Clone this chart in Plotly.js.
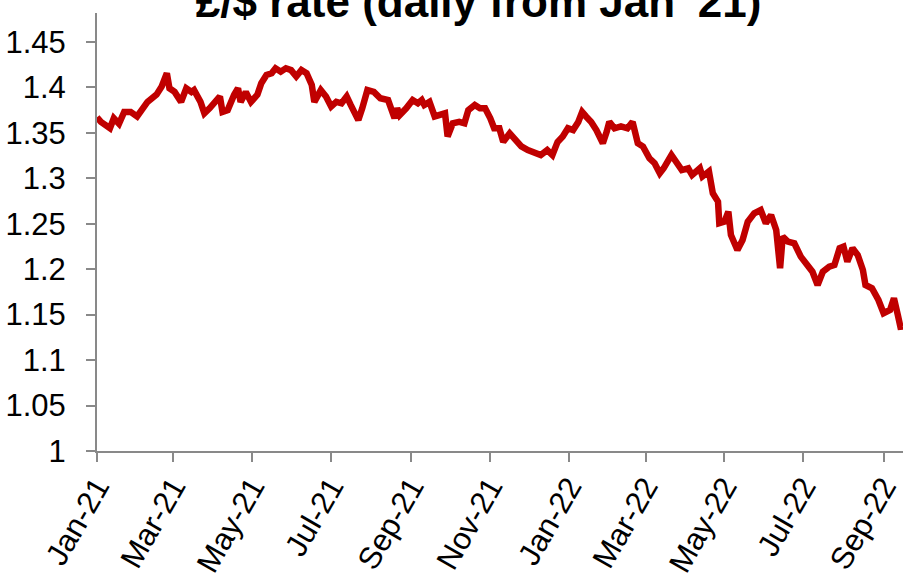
<!DOCTYPE html>
<html>
<head>
<meta charset="utf-8">
<script src="https://cdn.plot.ly/plotly-3.0.1.min.js"></script>
<style>html,body{margin:0;padding:0;background:#fff;}#chart{width:903px;height:576px;}</style>
</head>
<body>
<div id="chart"></div>
<script>
const chartTitle = "£/$ rate (daily from Jan '21)";

const dates = [
"2021-01-01","2021-01-04","2021-01-11","2021-01-14","2021-01-18","2021-01-22","2021-01-27","2021-02-01","2021-02-09","2021-02-16",
"2021-02-20","2021-02-24","2021-02-26","2021-03-02","2021-03-07","2021-03-11","2021-03-15","2021-03-17","2021-03-22","2021-03-25",
"2021-03-29","2021-04-02","2021-04-06","2021-04-08","2021-04-12","2021-04-17","2021-04-20","2021-04-22","2021-04-26","2021-04-30",
"2021-05-05","2021-05-08","2021-05-12","2021-05-16","2021-05-19","2021-05-23","2021-05-27","2021-05-31","2021-06-04","2021-06-08",
"2021-06-12","2021-06-16","2021-06-18","2021-06-23","2021-06-27","2021-07-01","2021-07-05","2021-07-09","2021-07-13","2021-07-16",
"2021-07-22","2021-07-25","2021-07-29","2021-08-03","2021-08-08","2021-08-14","2021-08-19","2021-08-21","2021-08-23","2021-08-28",
"2021-09-02","2021-09-06","2021-09-09","2021-09-11","2021-09-15","2021-09-19","2021-09-23","2021-09-27","2021-09-29","2021-10-03",
"2021-10-08","2021-10-12","2021-10-15","2021-10-20","2021-10-24","2021-10-28","2021-11-01","2021-11-04","2021-11-08","2021-11-11",
"2021-11-16","2021-11-20","2021-11-25","2021-11-30","2021-12-05","2021-12-10","2021-12-15","2021-12-19","2021-12-23","2021-12-27",
"2021-12-31","2022-01-04","2022-01-08","2022-01-11","2022-01-14","2022-01-18","2022-01-22","2022-01-27","2022-01-30","2022-02-01",
"2022-02-05","2022-02-10","2022-02-15","2022-02-19","2022-02-23","2022-02-27","2022-03-04","2022-03-08","2022-03-12","2022-03-15",
"2022-03-21","2022-03-25","2022-03-29","2022-04-03","2022-04-06","2022-04-12","2022-04-14","2022-04-19","2022-04-22","2022-04-26",
"2022-04-27","2022-05-01","2022-05-04","2022-05-06","2022-05-11","2022-05-15","2022-05-19","2022-05-24","2022-05-29","2022-06-02",
"2022-06-06","2022-06-10","2022-06-13","2022-06-15","2022-06-19","2022-06-24","2022-06-29","2022-07-04","2022-07-08","2022-07-12",
"2022-07-16","2022-07-21","2022-07-25","2022-07-29","2022-08-01","2022-08-04","2022-08-08","2022-08-12","2022-08-16","2022-08-18",
"2022-08-23","2022-08-28","2022-09-01","2022-09-06","2022-09-09","2022-09-12","2022-09-14","2022-09-16"
];

const gbpUsd = [
1.367,1.362,1.355,1.366,1.360,1.373,1.373,1.368,1.384,1.392,
1.401,1.4155,1.399,1.395,1.384,1.399,1.395,1.397,1.384,1.3715,
1.377,1.384,1.390,1.373,1.375,1.392,1.399,1.384,1.395,1.384,
1.392,1.4045,1.4136,1.4155,1.421,1.4173,1.421,1.419,1.412,1.419,
1.4155,1.4026,1.384,1.397,1.390,1.379,1.384,1.3825,1.390,1.381,
1.364,1.377,1.397,1.395,1.388,1.386,1.366,1.377,1.3696,1.377,
1.386,1.3825,1.386,1.3806,1.384,1.368,1.3696,1.3715,1.346,1.3605,
1.362,1.3605,1.375,1.3806,1.377,1.377,1.366,1.355,1.355,1.340,
1.3495,1.342,1.335,1.331,1.3275,1.3256,1.331,1.3256,1.340,1.346,
1.355,1.353,1.362,1.373,1.368,1.362,1.353,1.3385,1.3513,1.362,
1.355,1.357,1.355,1.362,1.3385,1.335,1.322,1.3165,1.3055,1.311,
1.3256,1.3165,1.309,1.311,1.3036,1.311,1.302,1.3075,1.2835,1.2743,
1.2505,1.2523,1.2633,1.2376,1.2211,1.2321,1.2523,1.2615,1.2651,1.2505,
1.2596,1.2431,1.201,1.2358,1.2303,1.2285,1.2138,1.2046,1.1972,1.1826,
1.1972,1.2028,1.2046,1.223,1.2247,1.2083,1.223,1.2156,1.1991,1.1826,
1.179,1.1661,1.1515,1.1551,1.168,1.1496,1.1367,1.137
];

const xStart = "2021-01-01";
const xEnd = "2022-09-16";
const yTicks = [1, 1.05, 1.1, 1.15, 1.2, 1.25, 1.3, 1.35, 1.4, 1.45];

const axisColor = "#898989";
const fontFam = "Liberation Sans, Arial, sans-serif";

const trace = {
  x: dates,
  y: gbpUsd,
  type: "scatter",
  mode: "lines",
  line: {color: "#C00000", width: 6.5, shape: "linear"},
  hoverinfo: "x+y"
};

const layout = {
  width: 903,
  height: 576,
  margin: {l: 97, r: 0, t: 13, b: 125, pad: 0},
  paper_bgcolor: "#ffffff",
  plot_bgcolor: "#ffffff",
  showlegend: false,
  font: {family: fontFam, color: "#000000"},
  title: {
    text: "<b>" + chartTitle + "</b>",
    font: {family: fontFam, size: 44, color: "#000000"},
    xref: "container", x: 0.53, xanchor: "center",
    yref: "container", y: 0.998, yanchor: "middle"
  },
  xaxis: {
    type: "date",
    range: [xStart, xEnd],
    tick0: xStart,
    dtick: "M2",
    tickformat: "%b-%y",
    tickangle: -60,
    tickfont: {family: fontFam, size: 31, color: "#000000"},
    ticks: "outside", ticklen: 9, tickwidth: 2, tickcolor: axisColor,
    ticklabelstandoff: -6,
    ticklabeloverflow: "allow",
    showline: true, linecolor: axisColor, linewidth: 2,
    showgrid: false, zeroline: false, automargin: false,
    fixedrange: true
  },
  yaxis: {
    range: [1, 1.4818],
    tickvals: yTicks,
    ticktext: yTicks.map(v => String(v)),
    tickfont: {family: fontFam, size: 31, color: "#000000"},
    ticks: "outside", ticklen: 9, tickwidth: 2, tickcolor: axisColor,
    ticklabelstandoff: 14,
    showline: true, linecolor: axisColor, linewidth: 2,
    showgrid: false, zeroline: false, automargin: false,
    fixedrange: true
  }
};

Plotly.newPlot("chart", [trace], layout, {displayModeBar: false, staticPlot: true});
</script>
</body>
</html>
